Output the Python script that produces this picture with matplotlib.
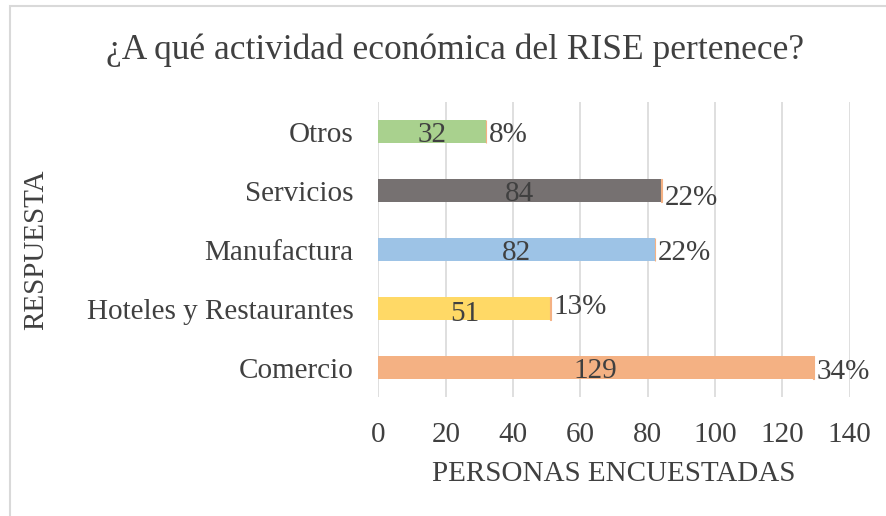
import matplotlib
matplotlib.use("Agg")
import matplotlib.pyplot as plt
from matplotlib.patches import Rectangle

categories = ["Comercio", "Hoteles y Restaurantes", "Manufactura", "Servicios", "Otros"]
values = [129, 51, 82, 84, 32]
percents = [0.34, 0.13, 0.22, 0.22, 0.08]
pct_labels = ["34%", "13%", "22%", "22%", "8%"]
colors = ["#F4B183", "#FFD966", "#9DC3E6", "#767171", "#A9D18E"]
xticks = [0, 20, 40, 60, 80, 100, 120, 140]

plt.rcParams['font.family'] = ['Liberation Serif', 'DejaVu Serif']
txt = "#404040"
fs = 21

fig = plt.figure(figsize=(8.87, 5.16), dpi=100)
ax = fig.add_axes([0.4267, 0.2306, 0.958 - 0.4267, 0.8023 - 0.2306])

# chart border
fig.patches.append(Rectangle((10/887, -0.1), 2.0, (1 - 6/516) + 0.1, transform=fig.transFigure,
                             fill=False, edgecolor="#D9D9D9", linewidth=1.5))

y = list(range(len(categories)))
ax.barh(y, values, height=0.4, color=colors, zorder=3)
ax.barh(y, percents, left=values, height=0.4, color="#ED7D31", edgecolor="#F4B183",
        linewidth=0.8, zorder=3)

val_dy = [0, -2, 0, 0, 0]
pct_dy = [-1, 3, 0, -3, 0]
for i, (v, p) in enumerate(zip(values, percents)):
    ax.annotate(str(v), (v / 2, i), xytext=(0, val_dy[i]), textcoords="offset points",
                ha="center", va="center_baseline", fontsize=fs, color=txt, zorder=4)
    ax.annotate(pct_labels[i], (v + p, i), xytext=(2, pct_dy[i]), textcoords="offset points",
                ha="left", va="center_baseline", fontsize=fs, color=txt, zorder=4)

ax.set_xlim(0, 140)
ax.set_ylim(-0.5, 4.5)
ax.set_xticks(xticks)
ax.set_yticks(y)
ax.set_yticklabels(categories)
ax.tick_params(axis="both", length=0, labelsize=fs, labelcolor=txt)
ax.tick_params(axis="x", pad=18)
ax.tick_params(axis="y", pad=18)
ax.grid(axis="x", color="#D9D9D9", linewidth=1.2, zorder=0)
for s in ax.spines.values():
    s.set_visible(False)

ax.set_xlabel("PERSONAS ENCUESTADAS", fontsize=fs, color=txt, labelpad=9)
fig.text(36/887, 1 - 250/516, "RESPUESTA", rotation=90, ha="center", va="center",
         fontsize=fs, color=txt)
fig.text(455/887, 1 - 50/516, "¿A qué actividad económica del RISE pertenece?",
         ha="center", va="center", fontsize=25.5, color=txt)

fig.savefig("out.png", dpi=100)
